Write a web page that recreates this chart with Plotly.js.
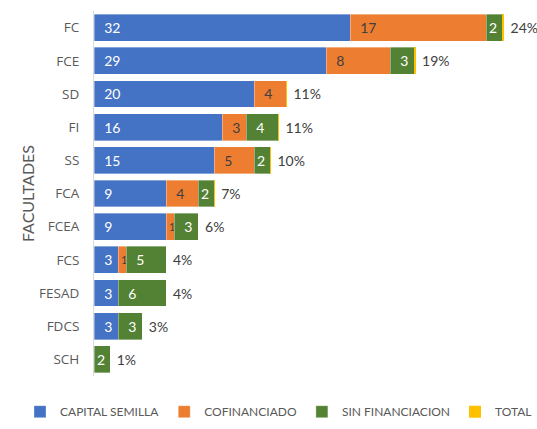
<!DOCTYPE html>
<html><head><meta charset="utf-8">
<script src="https://cdn.plot.ly/plotly-3.0.1.min.js"></script>
<style>html,body{margin:0;padding:0;background:#fff}#c{width:537px;height:429px}</style>
</head><body><div id="c"></div>
<script>
const categories = ["FC","FCE","SD","FI","SS","FCA","FCEA","FCS","FESAD","FDCS","SCH"];
const capitalSemilla = [32,29,20,16,15,9,9,3,3,3,0];
const cofinanciado = [17,8,4,3,5,4,1,1,0,0,0];
const sinFinanciacion = [2,3,0,4,2,2,3,5,6,3,2];
const total = [0.24,0.19,0.11,0.11,0.10,0.07,0.06,0.04,0.04,0.03,0.01];
const seriesNames = ["CAPITAL SEMILLA","COFINANCIADO","SIN FINANCIACION","TOTAL"];

const font = "Lato, 'Open Sans', sans-serif";
const NB = "\u00A0";
function lbl(v){return v.map(x=> x<=0 ? "" : (x>=3 ? NB+NB+x : String(x)));}
function seg(name, vals, color, txtColor){
  return {type:"bar", orientation:"h", name:name, y:categories, x:vals,
    marker:{color:color, line:{color:"rgba(255,255,255,0.6)", width:0.6}},
    text:lbl(vals), textposition:"inside", insidetextanchor:"start",
    textfont:{family:font, size:vals.map(x=>x===1?11:14), color:txtColor}, constraintext:"none",
    hoverinfo:"x+y", cliponaxis:false};
}
const data = [
  seg(seriesNames[0], capitalSemilla, "#4472C4", "#ffffff"),
  seg(seriesNames[1], cofinanciado, "#ED7D31", "#404040"),
  seg(seriesNames[2], sinFinanciacion, "#548235", "#ffffff"),
  {type:"bar", orientation:"h", name:seriesNames[3], y:categories, x:total,
   marker:{color:"#FFC000"}, text:total.map(v=>NB+Math.round(v*100)+"%"),
   textposition:"outside", textfont:{family:font, size:14, color:"#404040"},
   constraintext:"none", cliponaxis:false}
];
const layout = {
  width:537, height:429, barmode:"stack", bargap:0.19,
  margin:{l:94, r:3, t:11, b:38},
  paper_bgcolor:"#fff", plot_bgcolor:"#fff",
  font:{family:font, color:"#595959", size:13},
  xaxis:{range:[0,55], showticklabels:false, showgrid:false, zeroline:false, showline:false, fixedrange:true, automargin:false},
  yaxis:{autorange:"reversed", showgrid:false, zeroline:false, showline:true, linecolor:"#D9D9D9", linewidth:1,
    ticks:"", ticklen:0, ticklabelstandoff:11, tickfont:{family:"'Open Sans', Lato, sans-serif", size:13.5, color:"#595959"}, automargin:false,
    title:{text:"FACULTADES", font:{family:font, size:16, color:"#595959"}, standoff:0}},
  showlegend:true,
  legend:{orientation:"h", x:-0.12, xanchor:"left", y:-0.058, yanchor:"top",
    font:{family:font, size:12, color:"#595959"}, traceorder:"normal"}
};
Plotly.newPlot("c", data, layout, {displayModeBar:false, staticPlot:true});
</script></body></html>
